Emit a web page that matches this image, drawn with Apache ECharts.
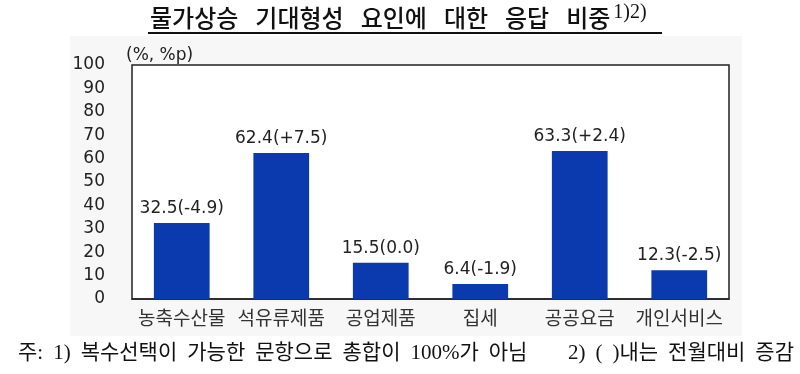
<!DOCTYPE html>
<html><head><meta charset="utf-8">
<script src="https://cdn.jsdelivr.net/npm/echarts@6/dist/echarts.min.js"></script>
<style>html,body{margin:0;padding:0;background:#fff}#c{width:800px;height:374px}</style>
</head><body><div id="c"></div>
<script>
const categories = ['농축수산물','석유류제품','공업제품','집세','공공요금','개인서비스'];
const values = [32.5, 62.4, 15.5, 6.4, 63.3, 12.3];
const changes = ['-4.9','+7.5','0.0','-1.9','+2.4','-2.5'];
const yTicks = [0,10,20,30,40,50,60,70,80,90,100];
const titleWords = ['물가상승','기대형성','요인에','대한','응답','비중'];
const titleSup = '1)2)';
const unitText = '(%, %p)';
const note1Words = ['주:','1)','복수선택이','가능한','문항으로','총합이','100%가','아님'];
const note2Words = ['2)','(',')내는','전월대비','증감'];

const chart = echarts.init(document.getElementById('c'), null, {renderer:'canvas'});
const KR = "'Noto Sans CJK KR', 'Noto Sans', sans-serif";
const SERIF = "'Liberation Serif', 'Noto Sans CJK KR', serif";
const LAT = "'DejaVu Sans', sans-serif";

function spaced(words, gapStyle, lastStyle){
  return words.map((w,i)=>'{'+(i<words.length-1?gapStyle:lastStyle)+'|'+w+'}').join('');
}

chart.setOption({
  animation:false,
  backgroundColor:'#ffffff',
  graphic:[
    {type:'rect', z:-10, shape:{x:70,y:36,width:672,height:300}, style:{fill:'#f7f7f7'}},
    {type:'line', shape:{x1:148,y1:33,x2:662,y2:33}, style:{stroke:'#111', lineWidth:2}},
    {type:'text', x:150, y:3, style:{
      text: spaced(titleWords,'w','w0') + '{s|'+titleSup+'}',
      rich:{
        w:{fontFamily:KR, fontSize:24, fontWeight:500, fill:'#111', lineHeight:29, padding:[0,17,0,0]},
        w0:{fontFamily:KR, fontSize:24, fontWeight:500, fill:'#111', lineHeight:29},
        s:{fontFamily:"'Liberation Serif', serif", fontSize:20, fill:'#111', verticalAlign:'top', lineHeight:29, padding:[0,0,9,3]}}
    }},
    {type:'text', x:18, y:343, style:{
      text: spaced(note1Words,'n','n0'),
      rich:{n:{fontFamily:SERIF, fontSize:21, fill:'#111', padding:[0,10,0,0]}, n0:{fontFamily:SERIF, fontSize:21, fill:'#111'}}
    }},
    {type:'text', x:794, y:343, style:{
      text: spaced(note2Words,'n','n0'), align:'right',
      rich:{n:{fontFamily:SERIF, fontSize:21, fill:'#111', padding:[0,10,0,0]}, n0:{fontFamily:SERIF, fontSize:21, fill:'#111'}}
    }}
  ],
  grid:{left:132, right:71, top:65, bottom:75, show:true, borderColor:'#222', borderWidth:1.5, backgroundColor:'#ffffff'},
  xAxis:{type:'category', data:categories,
    axisLine:{lineStyle:{color:'#222', width:1.5}}, axisTick:{show:false},
    axisLabel:{fontFamily:KR, fontSize:19, color:'#333', margin:9, interval:0}},
  yAxis:{type:'value', min:0, max:100, interval:10,
    name:unitText, nameLocation:'end', nameGap:1,
    nameTextStyle:{fontFamily:LAT, fontSize:17, color:'#222', align:'left', padding:[0,0,0,-6]},
    splitLine:{show:false}, axisLine:{show:false}, axisTick:{show:false},
    axisLabel:{fontFamily:LAT, fontSize:17, color:'#222', margin:27, formatter:v=>yTicks.includes(v)?String(v):''}},
  series:[{type:'bar', data:values, barWidth:'56%', itemStyle:{color:'#0a3aae'},
    label:{show:true, position:'top', distance:6, fontFamily:LAT, fontSize:17, color:'#222',
      formatter:p=>p.value.toFixed(1)+'('+changes[p.dataIndex]+')'}}]
});
</script></body></html>
